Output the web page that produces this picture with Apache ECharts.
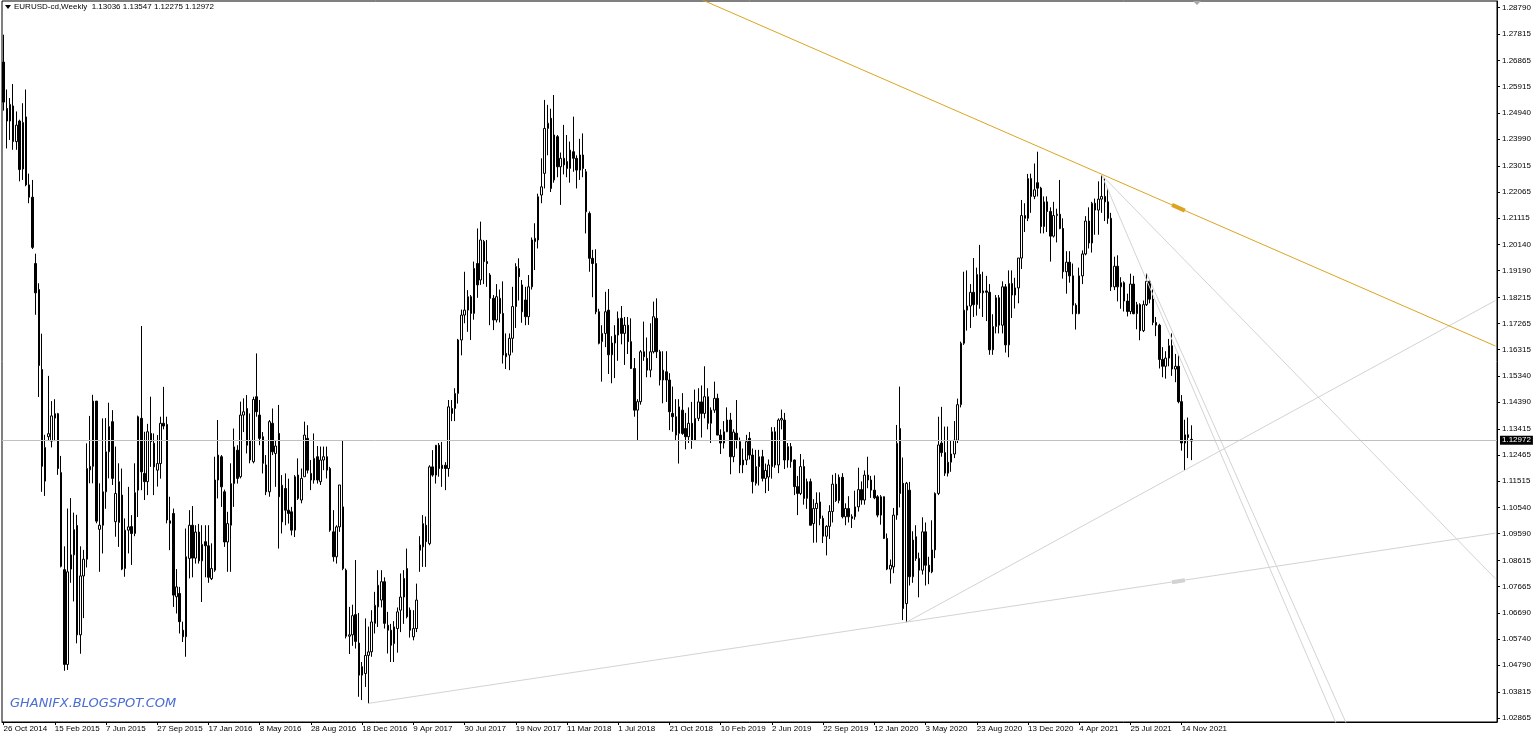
<!DOCTYPE html>
<html><head><meta charset="utf-8">
<script src="https://cdn.jsdelivr.net/npm/echarts@6/dist/echarts.min.js"></script>
<style>html,body{margin:0;padding:0;background:#fff}#c{width:1536px;height:739px}</style>
</head><body><div id="c"></div><script>
const symbolName = 'EURUSD-cd,Weekly';
const startDate = [2014, 9, 26];       // first weekly bar (26 Oct 2014)
const totalSlots = 467;                // bars + empty chart shift area
const watermark = 'GHANIFX.BLOGSPOT.COM';
// weekly bars: [open, high, low, close]
const ohlc = [
[1.2680,1.2780,1.2503,1.2534],[1.2511,1.2580,1.2365,1.2465],[1.2465,1.2549,1.2396,1.2526],[1.2520,1.2600,1.2360,1.2390],
[1.2390,1.2500,1.2360,1.2450],[1.2465,1.2470,1.2245,1.2288],[1.2290,1.2530,1.2250,1.2460],[1.2480,1.2580,1.2227,1.2232],
[1.2232,1.2273,1.2165,1.2187],[1.2187,1.2250,1.1998,1.2004],[1.1945,1.1981,1.1758,1.1838],[1.1850,1.1873,1.1458,1.1573],
[1.1558,1.1689,1.1112,1.1205],[1.1151,1.1320,1.1097,1.1274],[1.1313,1.1535,1.1297,1.1324],[1.1297,1.1443,1.1274,1.1389],
[1.1397,1.1450,1.1297,1.1381],[1.1397,1.1400,1.1174,1.1197],[1.1182,1.1243,1.0836,1.0840],[1.0828,1.0913,1.0459,1.0482],
[1.0482,1.1051,1.0462,1.0820],[1.0830,1.1089,1.0780,1.0882],[1.0882,1.1036,1.0712,1.0974],[1.0989,1.1028,1.0559,1.0590],
[1.0590,1.0913,1.0521,1.0805],[1.0805,1.0900,1.0651,1.0866],[1.0866,1.1289,1.0836,1.1197],[1.1192,1.1389,1.1143,1.1205],
[1.1205,1.1466,1.1143,1.1443],[1.1443,1.1443,1.0997,1.1005],[1.0975,1.1143,1.0820,1.0990],[1.0990,1.1380,1.0887,1.1112],
[1.1112,1.1381,1.1050,1.1258],[1.1258,1.1437,1.1161,1.1350],[1.1368,1.1410,1.1137,1.1161],[1.1003,1.1277,1.0948,1.1106],
[1.1000,1.1216,1.0911,1.1149],[1.1100,1.1197,1.0826,1.0830],[1.0832,1.1015,1.0802,1.0972],[1.0972,1.1130,1.0887,1.0984],
[1.0985,1.1027,1.0845,1.0960],[1.0960,1.1216,1.0950,1.1109],[1.1118,1.1390,1.1020,1.1386],[1.1380,1.1717,1.1118,1.1185],
[1.1179,1.1331,1.1082,1.1149],[1.1149,1.1360,1.1100,1.1331],[1.1325,1.1459,1.1203,1.1295],[1.1289,1.1325,1.1100,1.1203],
[1.1191,1.1319,1.1131,1.1215],[1.1215,1.1386,1.1160,1.1362],[1.1362,1.1495,1.1340,1.1352],[1.1358,1.1386,1.0997,1.1009],
[1.1006,1.1094,1.0899,1.0997],[1.1033,1.1051,1.0692,1.0735],[1.0729,1.0830,1.0668,1.0765],[1.0741,1.0765,1.0595,1.0638],
[1.0607,1.0638,1.0564,1.0583],[1.0583,1.0978,1.0510,1.0875],[1.0869,1.1045,1.0796,1.0990],[1.0990,1.1060,1.0800,1.0870],
[1.0870,1.0990,1.0850,1.0965],[1.0965,1.0995,1.0850,1.0860],[1.0860,1.0990,1.0710,1.0920],[1.0930,1.0990,1.0800,1.0915],
[1.0915,1.0990,1.0780,1.0800],[1.0795,1.0924,1.0790,1.0832],[1.0826,1.1240,1.0820,1.1155],[1.1155,1.1374,1.1088,1.1246],
[1.1240,1.1246,1.1057,1.1130],[1.1112,1.1120,1.0911,1.0929],[1.0929,1.1039,1.0820,1.0996],[1.0990,1.1216,1.0820,1.1142],
[1.1142,1.1343,1.1057,1.1276],[1.1264,1.1282,1.1142,1.1161],[1.1167,1.1441,1.1161,1.1392],[1.1392,1.1453,1.1330,1.1404],
[1.1416,1.1465,1.1252,1.1282],[1.1300,1.1398,1.1216,1.1228],[1.1222,1.1459,1.1216,1.1449],[1.1459,1.1617,1.1386,1.1404],
[1.1392,1.1447,1.1282,1.1307],[1.1313,1.1330,1.1179,1.1216],[1.1210,1.1246,1.1100,1.1112],[1.1112,1.1374,1.1094,1.1368],
[1.1362,1.1416,1.1246,1.1258],[1.1252,1.1300,1.1130,1.1279],[1.1325,1.1429,1.0905,1.1094],[1.1002,1.1173,1.0960,1.1136],
[1.1124,1.1179,1.0990,1.1045],[1.1045,1.1160,1.0996,1.1033],[1.1039,1.1057,1.0953,1.0972],[1.0972,1.1173,1.0947,1.1167],
[1.1173,1.1234,1.1082,1.1088],[1.1082,1.1197,1.1070,1.1161],[1.1167,1.1368,1.1167,1.1319],[1.1307,1.1355,1.1179,1.1191],
[1.1179,1.1228,1.1118,1.1155],[1.1155,1.1325,1.1142,1.1234],[1.1240,1.1279,1.1142,1.1155],[1.1149,1.1277,1.1137,1.1228],
[1.1228,1.1277,1.1191,1.1240],[1.1240,1.1277,1.1161,1.1191],[1.1197,1.1203,1.0966,1.0972],[1.0966,1.1045,1.0857,1.0875],
[1.0875,1.0990,1.0850,1.0984],[1.0984,1.1137,1.0966,1.1137],[1.1057,1.1301,1.0826,1.0832],[1.0826,1.0832,1.0577,1.0585],
[1.0585,1.0692,1.0520,1.0590],[1.0590,1.0700,1.0550,1.0660],[1.0664,1.0863,1.0540,1.0566],[1.0560,1.0670,1.0364,1.0443],
[1.0443,1.0491,1.0352,1.0474],[1.0449,1.0650,1.0400,1.0515],[1.0515,1.0620,1.0340,1.0528],[1.0528,1.0680,1.0510,1.0637],
[1.0632,1.0747,1.0595,1.0698],[1.0692,1.0826,1.0619,1.0771],[1.0717,1.0826,1.0690,1.0784],[1.0784,1.0800,1.0613,1.0632],
[1.0625,1.0674,1.0522,1.0607],[1.0607,1.0630,1.0491,1.0552],[1.0558,1.0640,1.0491,1.0619],[1.0613,1.0690,1.0525,1.0674],
[1.0680,1.0814,1.0600,1.0728],[1.0728,1.0826,1.0630,1.0796],[1.0832,1.0905,1.0650,1.0656],[1.0680,1.0690,1.0580,1.0607],
[1.0583,1.0680,1.0570,1.0613],[1.0613,1.0777,1.0600,1.0717],[1.0918,1.0950,1.0820,1.0899],[1.0911,1.1027,1.0838,1.0996],
[1.0990,1.1022,1.0838,1.0930],[1.0923,1.1209,1.0917,1.1203],[1.1203,1.1264,1.1167,1.1173],[1.1173,1.1282,1.1142,1.1282],
[1.1282,1.1290,1.1167,1.1197],[1.1209,1.1294,1.1130,1.1197],[1.1209,1.1220,1.1118,1.1197],[1.1197,1.1447,1.1167,1.1422],
[1.1416,1.1447,1.1370,1.1398],[1.1416,1.1490,1.1370,1.1471],[1.1471,1.1670,1.1434,1.1666],[1.1666,1.1777,1.1610,1.1757],
[1.1757,1.1915,1.1727,1.1775],[1.1775,1.1848,1.1696,1.1824],[1.1824,1.1830,1.1666,1.1763],[1.1763,1.1952,1.1740,1.1927],
[1.1945,1.2073,1.1820,1.1867],[1.1885,1.2098,1.1867,1.2031],[1.2025,1.2031,1.1870,1.1952],[1.1952,1.2031,1.1860,1.1945],
[1.1903,1.1910,1.1720,1.1818],[1.1818,1.1830,1.1702,1.1739],[1.1739,1.1870,1.1730,1.1824],[1.1818,1.1850,1.1730,1.1763],
[1.1763,1.1880,1.1580,1.1611],[1.1617,1.1690,1.1560,1.1605],[1.1611,1.1690,1.1556,1.1672],[1.1672,1.1860,1.1620,1.1788],
[1.1788,1.1946,1.1710,1.1934],[1.1927,1.1964,1.1810,1.1897],[1.1867,1.1885,1.1729,1.1769],[1.1812,1.1860,1.1720,1.1751],
[1.1751,1.1903,1.1721,1.1860],[1.1860,1.2040,1.1850,1.2031],[1.2025,1.2092,1.1921,1.2037],[1.2031,1.2200,1.2000,1.2189],
[1.2195,1.2329,1.2165,1.2225],[1.2274,1.2542,1.2219,1.2438],[1.2438,1.2524,1.2340,1.2457],[1.2475,1.2510,1.2206,1.2219],
[1.2250,1.2560,1.2240,1.2414],[1.2408,1.2414,1.2260,1.2298],[1.2298,1.2350,1.2159,1.2329],[1.2329,1.2451,1.2270,1.2305],
[1.2317,1.2414,1.2260,1.2292],[1.2292,1.2390,1.2240,1.2359],[1.2353,1.2481,1.2280,1.2329],[1.2329,1.2340,1.2219,1.2286],
[1.2286,1.2400,1.2250,1.2341],[1.2341,1.2420,1.2260,1.2292],[1.2280,1.2290,1.2055,1.2134],[1.2128,1.2135,1.1915,1.1964],
[1.1964,1.1995,1.1822,1.1945],[1.1945,1.1997,1.1760,1.1769],[1.1769,1.1780,1.1650,1.1654],[1.1660,1.1720,1.1514,1.1690],
[1.1690,1.1842,1.1640,1.1769],[1.1775,1.1852,1.1542,1.1612],[1.1612,1.1680,1.1508,1.1655],[1.1655,1.1720,1.1527,1.1684],
[1.1684,1.1770,1.1590,1.1745],[1.1745,1.1790,1.1650,1.1690],[1.1690,1.1750,1.1575,1.1720],[1.1720,1.1750,1.1615,1.1660],
[1.1660,1.1745,1.1560,1.1562],[1.1562,1.1600,1.1386,1.1410],[1.1410,1.1450,1.1301,1.1441],[1.1441,1.1629,1.1430,1.1623],
[1.1623,1.1733,1.1590,1.1605],[1.1599,1.1675,1.1530,1.1556],[1.1556,1.1727,1.1530,1.1623],[1.1623,1.1806,1.1617,1.1751],
[1.1745,1.1818,1.1600,1.1623],[1.1623,1.1630,1.1500,1.1520],[1.1520,1.1625,1.1435,1.1556],[1.1550,1.1625,1.1440,1.1520],
[1.1520,1.1545,1.1337,1.1404],[1.1398,1.1496,1.1331,1.1386],[1.1386,1.1450,1.1300,1.1319],[1.1325,1.1450,1.1215,1.1422],
[1.1410,1.1472,1.1320,1.1325],[1.1343,1.1400,1.1267,1.1313],[1.1313,1.1420,1.1290,1.1362],[1.1362,1.1440,1.1269,1.1301],
[1.1301,1.1485,1.1300,1.1380],[1.1380,1.1490,1.1370,1.1440],[1.1440,1.1500,1.1310,1.1398],[1.1398,1.1570,1.1380,1.1459],
[1.1459,1.1490,1.1340,1.1362],[1.1362,1.1420,1.1290,1.1410],[1.1410,1.1514,1.1400,1.1453],[1.1453,1.1470,1.1320,1.1319],
[1.1319,1.1340,1.1250,1.1290],[1.1290,1.1370,1.1270,1.1331],[1.1331,1.1420,1.1330,1.1374],[1.1374,1.1400,1.1176,1.1240],
[1.1240,1.1340,1.1220,1.1330],[1.1326,1.1447,1.1270,1.1301],[1.1295,1.1310,1.1180,1.1210],[1.1210,1.1270,1.1180,1.1228],
[1.1228,1.1320,1.1210,1.1295],[1.1307,1.1330,1.1230,1.1246],[1.1246,1.1270,1.1106,1.1149],[1.1143,1.1265,1.1135,1.1204],
[1.1204,1.1265,1.1135,1.1240],[1.1240,1.1265,1.1150,1.1161],[1.1161,1.1215,1.1107,1.1190],[1.1166,1.1230,1.1115,1.1210],
[1.1204,1.1348,1.1160,1.1331],[1.1331,1.1348,1.1200,1.1210],[1.1210,1.1380,1.1180,1.1374],[1.1374,1.1412,1.1340,1.1380],
[1.1374,1.1400,1.1195,1.1228],[1.1228,1.1290,1.1200,1.1277],[1.1277,1.1290,1.1200,1.1222],[1.1228,1.1230,1.1100,1.1131],
[1.1131,1.1170,1.1027,1.1106],[1.1106,1.1250,1.1100,1.1204],[1.1204,1.1230,1.1065,1.1088],[1.1088,1.1160,1.1050,1.1149],
[1.1149,1.1160,1.0990,1.0990],[1.0996,1.1085,1.0926,1.1051],[1.1051,1.1110,1.0927,1.1070],[1.1075,1.1110,1.0990,1.1015],
[1.1015,1.1025,1.0925,1.0950],[1.0950,1.0990,1.0880,1.0986],[1.0986,1.1063,1.0940,1.1040],[1.1040,1.1174,1.1000,1.1140],
[1.1140,1.1180,1.1075,1.1080],[1.1080,1.1175,1.1070,1.1165],[1.1165,1.1180,1.1015,1.1021],[1.1021,1.1070,1.0990,1.1051],
[1.1051,1.1096,1.1000,1.1021],[1.1021,1.1030,1.0980,1.1015],[1.1021,1.1116,1.1010,1.1057],[1.1057,1.1200,1.1040,1.1120],
[1.1120,1.1150,1.1065,1.1082],[1.1082,1.1190,1.1065,1.1173],[1.1173,1.1240,1.1125,1.1155],[1.1155,1.1170,1.1090,1.1118],
[1.1118,1.1172,1.1085,1.1090],[1.1094,1.1100,1.1019,1.1027],[1.1027,1.1100,1.0992,1.1094],[1.1094,1.1095,1.0940,1.0942],
[1.0942,1.0960,1.0826,1.0830],[1.0830,1.0865,1.0777,1.0844],[1.0838,1.1053,1.0815,1.1027],[1.1027,1.1356,1.1010,1.1289],
[1.1343,1.1496,1.1055,1.1106],[1.1143,1.1237,1.0644,1.0686],[1.0704,1.1148,1.0636,1.1143],[1.1118,1.1148,1.0770,1.0802],
[1.0802,1.0968,1.0780,1.0936],[1.0948,1.0990,1.0860,1.0869],[1.0869,1.0890,1.0727,1.0826],[1.0826,1.1019,1.0810,1.0966],
[1.0966,1.1000,1.0770,1.0844],[1.0844,1.0875,1.0775,1.0820],[1.0820,1.1008,1.0815,1.0900],[1.0900,1.1110,1.0870,1.1106],
[1.1106,1.1386,1.1100,1.1283],[1.1290,1.1422,1.1240,1.1255],[1.1255,1.1350,1.1170,1.1180],[1.1180,1.1350,1.1168,1.1220],
[1.1220,1.1300,1.1185,1.1250],[1.1250,1.1370,1.1235,1.1300],[1.1300,1.1452,1.1290,1.1430],[1.1430,1.1660,1.1420,1.1654],
[1.1654,1.1915,1.1648,1.1775],[1.1775,1.1920,1.1700,1.1790],[1.1790,1.1870,1.1710,1.1840],[1.1840,1.1965,1.1750,1.1795],
[1.1795,1.1930,1.1755,1.1905],[1.1905,1.2013,1.1780,1.1838],[1.1838,1.1915,1.1750,1.1845],[1.1845,1.1900,1.1735,1.1840],
[1.1840,1.1870,1.1612,1.1630],[1.1630,1.1760,1.1612,1.1715],[1.1715,1.1830,1.1690,1.1820],[1.1820,1.1830,1.1690,1.1720],
[1.1720,1.1880,1.1690,1.1860],[1.1860,1.1870,1.1620,1.1648],[1.1648,1.1920,1.1603,1.1872],[1.1872,1.1920,1.1746,1.1830],
[1.1830,1.1893,1.1781,1.1856],[1.1856,1.1965,1.1800,1.1965],[1.1965,1.2177,1.1925,1.2120],[1.2120,1.2165,1.2060,1.2110],
[1.2110,1.2272,1.2100,1.2255],[1.2255,1.2273,1.2130,1.2190],[1.2190,1.2310,1.2180,1.2214],[1.2240,1.2353,1.2190,1.2220],
[1.2220,1.2225,1.2055,1.2080],[1.2080,1.2190,1.2055,1.2170],[1.2170,1.2190,1.2060,1.2135],[1.2135,1.2150,1.1952,1.2045],
[1.2045,1.2170,1.2040,1.2120],[1.2120,1.2145,1.2022,1.2125],[1.2125,1.2250,1.2070,1.2073],[1.2073,1.2110,1.1890,1.1915],
[1.1915,1.1990,1.1835,1.1950],[1.1950,1.1990,1.1875,1.1900],[1.1900,1.1945,1.1760,1.1793],[1.1793,1.1800,1.1704,1.1762],
[1.1762,1.1930,1.1760,1.1900],[1.1900,1.1993,1.1870,1.1980],[1.1980,1.2118,1.1975,1.2100],[1.2100,1.2150,1.2000,1.2020],
[1.2020,1.2170,1.1985,1.2165],[1.2165,1.2182,1.2050,1.2140],[1.2140,1.2245,1.2050,1.2180],[1.2180,1.2268,1.2130,1.2190],
[1.2190,1.2255,1.2100,1.2170],[1.2170,1.2220,1.2090,1.2110],[1.2110,1.2130,1.1845,1.1860],[1.1860,1.1970,1.1848,1.1935],
[1.1935,1.1975,1.1807,1.1860],[1.1860,1.1895,1.1780,1.1875],[1.1875,1.1880,1.1770,1.1808],[1.1808,1.1835,1.1752,1.1770],
[1.1770,1.1908,1.1760,1.1870],[1.1870,1.1900,1.1760,1.1762],[1.1762,1.1805,1.1705,1.1795],[1.1795,1.1800,1.1665,1.1700],
[1.1700,1.1810,1.1695,1.1795],[1.1795,1.1910,1.1790,1.1880],[1.1880,1.1885,1.1800,1.1815],[1.1815,1.1850,1.1720,1.1730],
[1.1730,1.1750,1.1680,1.1720],[1.1720,1.1725,1.1562,1.1595],[1.1595,1.1640,1.1530,1.1570],[1.1570,1.1625,1.1525,1.1600],
[1.1600,1.1670,1.1570,1.1645],[1.1645,1.1690,1.1535,1.1560],[1.1560,1.1615,1.1512,1.1570],[1.1570,1.1610,1.1435,1.1441],
[1.1441,1.1465,1.1262,1.1290],[1.1290,1.1375,1.1191,1.1320],[1.1320,1.1383,1.1235,1.1310],[1.13036,1.13547,1.12275,1.12972]
];
const yTickLabels = ['1.28790','1.27815','1.26865','1.25915','1.24940','1.23990','1.23015','1.22065','1.21115','1.20140',
  '1.19190','1.18215','1.17265','1.16315','1.15340','1.14390','1.13415','1.12465','1.11515','1.10540','1.09590','1.08615',
  '1.07665','1.06690','1.05740','1.04790','1.03815','1.02865'];
// trend lines: [[barIndex, price], [barIndex, price]]
const orangeTrend = [[210, 1.2949], [466, 1.1644]];
const orangeMark = [[365, 1.2159], [369, 1.2138]];
const grayTrends = [
  [[114, 1.0340], [466, 1.0961]],
  [[282, 1.0636], [466, 1.1810]],
  [[343, 1.2268], [466, 1.0795]],
  [[343, 1.2268], [420, 1.0164]],
  [[357, 1.1910], [422, 1.0199]]
];
const grayMark = [[365, 1.0782], [369, 1.0789]];

const MONTHS = ['Jan','Feb','Mar','Apr','May','Jun','Jul','Aug','Sep','Oct','Nov','Dec'];
const lastIdx = ohlc.length - 1;
const categories = [];
for (let i = 0; i < totalSlots; i++) {
  const d = new Date(Date.UTC(startDate[0], startDate[1], startDate[2] + 7 * i));
  categories.push(d.getUTCDate() + ' ' + MONTHS[d.getUTCMonth()] + ' ' + d.getUTCFullYear());
}
const candleData = ohlc.map(([o, h, l, c]) => [o, c, Math.min(l, o, c), Math.max(h, o, c)]);
const last = ohlc[lastIdx];
const headerText = symbolName + '  ' + last.map(v => v.toFixed(5)).join(' ');

const FONT = 'Liberation Sans';
const chart = echarts.init(document.getElementById('c'), null, {renderer: 'canvas'});
const lineSeries = (data, color, width, z) => ({
  type: 'line', data, showSymbol: false, symbol: 'none', silent: true, clip: true, z,
  lineStyle: {color, width}, animation: false
});
const series = [{
  type: 'candlestick', data: candleData, barWidth: 2, z: 2,
  itemStyle: {color: '#ffffff', color0: '#000000', borderColor: '#000000', borderColor0: '#000000', borderWidth: 1},
  markLine: {
    symbol: 'none', silent: true, animation: false,
    data: [{yAxis: last[3]}],
    lineStyle: {color: '#c0c0c0', type: 'solid', width: 1},
    label: {position: 'end', formatter: last[3].toFixed(5), color: '#fff', backgroundColor: '#000',
      fontFamily: FONT, fontSize: 8, padding: [1, 2, 0, 2], distance: 3}
  }
}];
grayTrends.forEach(t => series.push(lineSeries(t, '#d3d3d3', 1, 3)));
series.push(lineSeries(grayMark, '#d3d3d3', 4, 3));
series.push(lineSeries(orangeTrend, '#daa520', 1, 4));
series.push(lineSeries(orangeMark, '#daa520', 4, 4));

chart.setOption({
  animation: false,
  backgroundColor: '#ffffff',
  grid: {left: 2, right: 39, top: 1, bottom: 17, show: true, borderColor: '#000', borderWidth: 1, backgroundColor: '#fff'},
  xAxis: {
    type: 'category', data: categories, boundaryGap: true,
    axisLine: {show: true, lineStyle: {color: '#000', width: 1}},
    axisTick: {show: true, alignWithLabel: true, length: 3, lineStyle: {color: '#000'},
      interval: (i) => i % 16 === 0 && i <= lastIdx},
    axisLabel: {interval: 15, align: 'left', fontFamily: FONT, fontSize: 8, color: '#000', margin: 3,
      formatter: (v, i) => (i <= lastIdx ? v : '')},
    splitLine: {show: false}
  },
  yAxis: {
    type: 'value', position: 'right', scale: true, min: 1.0272, max: 1.2903,
    axisLine: {show: true, lineStyle: {color: '#000', width: 1}},
    axisTick: {show: true, length: 3, lineStyle: {color: '#000'}, customValues: yTickLabels.map(Number)},
    axisLabel: {fontFamily: FONT, fontSize: 8, color: '#000', margin: 5, customValues: yTickLabels.map(Number),
      formatter: v => v.toFixed(5)},
    splitLine: {show: false}
  },
  graphic: [
    {type: 'polygon', shape: {points: [[5, 5], [11, 5], [8, 9]]}, style: {fill: '#000'}, silent: true},
    {type: 'text', left: 14, top: 3, style: {text: headerText, font: '8px "' + FONT + '"', fill: '#000'}, silent: true},
    {type: 'polygon', shape: {points: [[1193, 1], [1201, 1], [1197, 5]]}, style: {fill: '#a8a8a8'}, silent: true},
    {type: 'text', left: 10, top: 697, style: {text: watermark, font: 'italic 13px "DejaVu Sans"', fill: '#4a6cd4'}, silent: true}
  ],
  series
});
</script></body></html>
